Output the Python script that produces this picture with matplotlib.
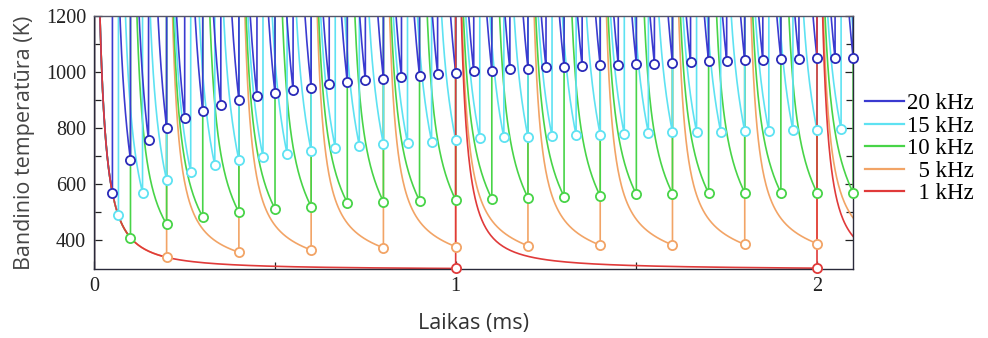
import numpy as np
import matplotlib
matplotlib.use("Agg")
import matplotlib.pyplot as plt
from matplotlib.lines import Line2D

# ---------------- data ----------------
freq_labels = ["20 kHz", "15 kHz", "10 kHz", "5 kHz", "1 kHz"]
periods_ms = [0.05, 1 / 15, 0.1, 0.2, 1.0]
colors = ["#3a3ad0", "#5ee2f2", "#48d448", "#f2a466", "#e03a3a"]

# temperature just before each pulse (circle markers), pulses at k*period, k=1,2,...
mins_20k = [568, 685, 755, 801, 835, 860, 881, 900, 913, 923, 935, 944, 955, 963,
            970, 976, 981, 985, 992, 996, 1002, 1004, 1009, 1012, 1016, 1018, 1020,
            1023, 1026, 1029, 1030, 1033, 1035, 1038, 1040, 1041, 1043, 1045,
            1046, 1048, 1048, 1051]
mins_15k = [488, 568, 613, 643, 666, 684, 697, 707, 718, 729, 736, 742, 746, 751,
            756, 762, 766, 768, 770, 773, 775, 777, 781, 784, 786, 786, 788, 788,
            792, 792, 795]
mins_10k = [407, 455, 481, 498, 510, 518, 532, 536, 539, 542, 546, 550, 554, 556,
            562, 565, 566, 568, 568, 568, 568]
mins_5k = [337, 355, 363, 371, 375, 378, 380, 381, 383, 386]
mins_1k = [297, 298]
all_mins = [mins_20k, mins_15k, mins_10k, mins_5k, mins_1k]

# single-pulse cooling response used for the curve shape between markers
T_AMB = 293.0
C_RESP = 4.32
TAU0 = 0.0128
P_EXP = 1.5
X_MAX = 2.1
Y_MIN, Y_MAX = 295, 1200


def response(tau):
    return C_RESP / (tau + TAU0) ** P_EXP


# ---------------- figure ----------------
fig = plt.figure(figsize=(9.88, 3.38), dpi=100)
ax = fig.add_axes([0.0955, 0.2041, 0.768, 0.7486])

draw_order = [3, 2, 1, 0, 4]
for idx in draw_order:
    per = periods_ms[idx]
    mins = all_mins[idx]
    col = colors[idx]
    n_pulses = int(np.floor(X_MAX / per + 1e-9)) + 1
    xs_all, ys_all = [], []
    for k in range(n_pulses):
        t0 = k * per
        b_start = T_AMB if k == 0 else mins[k - 1]
        t_end = min(t0 + per, X_MAX)
        if t_end - t0 < 1e-6:
            xs_all.append(np.array([t0, t0]))
            ys_all.append(np.array([b_start, response(0.0) + b_start]))
            continue
        if k < len(mins):
            b_end = mins[k] - response(per)
        else:
            b_end = mins[k - 1] - response(per)
        tau = np.concatenate([[0.0], np.geomspace(1e-4, t_end - t0, 250)])
        bg = b_start + (b_end - b_start) * tau / per
        temp = response(tau) + bg
        if k < len(mins) and abs(t_end - (t0 + per)) < 1e-9:
            temp[-1] = mins[k]
        xs = np.concatenate([[t0], t0 + tau])
        ys = np.concatenate([[b_start], temp])
        xs_all.append(xs)
        ys_all.append(ys)
    ax.plot(np.concatenate(xs_all), np.concatenate(ys_all), color=col, lw=1.2,
            zorder=2)
    mt = per * np.arange(1, len(mins) + 1)
    ax.plot(mt, mins, linestyle="none", marker="o", ms=6.6, mfc="white",
            mec=col if idx != 0 else "#2a2ab8", mew=1.3, clip_on=False, zorder=3)

ax.set_xlim(0, X_MAX)
ax.set_ylim(Y_MIN, Y_MAX)
ax.set_xticks([0, 1, 2])
ax.set_xticklabels(["0", "1", "2"])
ax.set_xticks([0.5, 1.5], minor=True)
ax.set_yticks([400, 600, 800, 1000, 1200])
ax.set_yticks(np.arange(400, 1200, 100), minor=True)

serif = ["Liberation Serif", "DejaVu Serif"]
ax.tick_params(axis="both", which="both", direction="in", colors="#222222",
               top=False, right=True, labelsize=14.5, pad=6)
ax.tick_params(which="major", length=6, width=0.9)
ax.tick_params(which="minor", length=5, width=0.9)
for lab in ax.get_xticklabels() + ax.get_yticklabels():
    lab.set_family(serif)
for s in ax.spines.values():
    s.set_color("#2a2a3a")
    s.set_linewidth(1.0)
ax.spines["top"].set_color("#555566")

sans = ["Open Sans", "DejaVu Sans"]
ax.set_ylabel("Bandinio temperatūra (K)", family=sans, fontsize=15.5,
              color="#454545", labelpad=8)
ax.set_xlabel("Laikas (ms)", family=sans, fontsize=15.5, color="#333333",
              labelpad=12)

handles = [Line2D([], [], color=c, lw=1.6) for c in colors]
leg_labels = [("\u2007" + l if len(l.split()[0]) == 1 else l) for l in freq_labels]
leg = fig.legend(handles, leg_labels, loc="upper left",
                 bbox_to_anchor=(0.876, 0.725), frameon=False,
                 prop={"family": serif, "size": 16.5}, handlelength=1.7,
                 handletextpad=0.13, labelspacing=0.065, borderaxespad=0,
                 borderpad=0)

fig.savefig("out.png", dpi=100)
